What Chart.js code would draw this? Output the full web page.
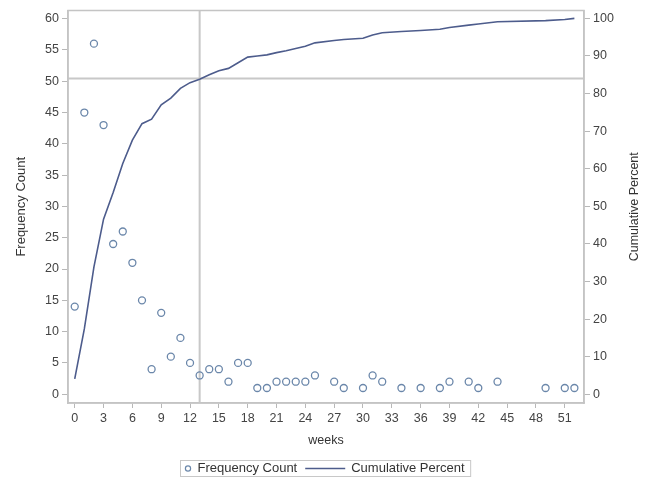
<!DOCTYPE html>
<html>
<head>
<meta charset="utf-8">
<script src="https://cdn.jsdelivr.net/npm/chart.js@4.4.1/dist/chart.umd.min.js"></script>
<style>
  html, body { margin: 0; padding: 0; background: #fff; }
  #wrap { width: 651px; height: 477px; }
</style>
</head>
<body>
<div id="wrap"><canvas id="freqChart" width="651" height="477"></canvas></div>
<script>
// weeks that have observations
const weeks = [0, 1, 2, 3, 4, 5, 6, 7, 8, 9, 10, 11, 12, 13, 14, 15, 16, 17, 18, 19, 20,
  21, 22, 23, 24, 25, 27, 28, 30, 31, 32, 34, 36, 38, 39, 41, 42, 44, 49, 51, 52];
const freqCount = [14, 45, 56, 43, 24, 26, 21, 15, 4, 13, 6, 9, 5, 3, 4, 4, 2, 5, 5, 1, 1,
  2, 2, 2, 2, 3, 2, 1, 1, 3, 2, 1, 1, 1, 2, 2, 1, 2, 1, 1, 1];
const cumPercent = [4.1, 17.4, 33.9, 46.6, 53.7, 61.4, 67.6, 72.0, 73.2, 77.0, 78.8, 81.4, 82.9, 83.8,
  85.0, 86.1, 86.7, 88.2, 89.7, 90.0, 90.3, 90.9, 91.4, 92.0, 92.6, 93.5, 94.1, 94.4, 94.7,
  95.6, 96.2, 96.5, 96.8, 97.1, 97.6, 98.2, 98.5, 99.1, 99.4, 99.7, 100];

const weekTicks = [0, 3, 6, 9, 12, 15, 18, 21, 24, 27, 30, 33, 36, 39, 42, 45, 48, 51];
const countTicks = [0, 5, 10, 15, 20, 25, 30, 35, 40, 45, 50, 55, 60];
const percentTicks = [0, 10, 20, 30, 40, 50, 60, 70, 80, 90, 100];

const refWeek = 13;
const refPercent = 84;

const FONT = "'Liberation Sans', Arial, sans-serif";
const MARKER_COLOR = "#6b87aa";
const LINE_COLOR = "#4d5c8c";
const FRAME_COLOR = "#c4c4c4";

Chart.defaults.font.family = FONT;

// reference lines, top frame, right axis title and boxed legend
const sasExtras = {
  id: "sasExtras",
  beforeDatasetsDraw(chart) {
    const { ctx, chartArea: a, scales } = chart;
    const rx = scales.x.getPixelForValue(refWeek);
    const ry = scales.y1.getPixelForValue(refPercent);
    ctx.save();
    ctx.strokeStyle = "#c8c8c8";
    ctx.lineWidth = 2;
    ctx.beginPath();
    ctx.moveTo(rx, a.top);
    ctx.lineTo(rx, a.bottom);
    ctx.moveTo(a.left, ry);
    ctx.lineTo(a.right, ry);
    ctx.stroke();
    ctx.restore();
  },
  afterDraw(chart) {
    const { ctx, chartArea: a } = chart;
    ctx.save();
    ctx.strokeStyle = FRAME_COLOR;
    ctx.lineWidth = 1.5;
    ctx.strokeRect(a.left, a.top, a.right - a.left, a.bottom - a.top);

    // right axis title, reading bottom to top
    ctx.fillStyle = "#333";
    ctx.font = "12.5px " + FONT;
    ctx.textAlign = "center";
    ctx.textBaseline = "middle";
    ctx.translate(635, (a.top + a.bottom) / 2);
    ctx.rotate(-Math.PI / 2);
    ctx.fillText(chart.data.datasets[1].label, 0, 0);
    ctx.restore();

    // legend
    const lab1 = chart.data.datasets[0].label;
    const lab2 = chart.data.datasets[1].label;
    ctx.save();
    ctx.font = "13px " + FONT;
    const w1 = ctx.measureText(lab1).width;
    const w2 = ctx.measureText(lab2).width;
    const total = 4 + 7 + 6 + w1 + 8 + 40 + 6 + w2 + 6;
    const x0 = Math.round(chart.width / 2 - total / 2) + 0.5;
    const top = 460.5, h = 16, cy = top + h / 2;
    ctx.strokeStyle = "#c8c8c8";
    ctx.lineWidth = 1;
    ctx.strokeRect(x0, top, total, h);
    let x = x0 + 4;
    ctx.strokeStyle = MARKER_COLOR;
    ctx.lineWidth = 1.2;
    ctx.beginPath();
    ctx.arc(x + 3.5, cy, 2.6, 0, Math.PI * 2);
    ctx.stroke();
    x += 7 + 6;
    ctx.fillStyle = "#333";
    ctx.textBaseline = "middle";
    ctx.textAlign = "left";
    ctx.fillText(lab1, x, cy);
    x += w1 + 8;
    ctx.strokeStyle = LINE_COLOR;
    ctx.lineWidth = 1.6;
    ctx.beginPath();
    ctx.moveTo(x, cy);
    ctx.lineTo(x + 40, cy);
    ctx.stroke();
    x += 40 + 6;
    ctx.fillText(lab2, x, cy);
    ctx.restore();
  }
};

const ctx = document.getElementById("freqChart").getContext("2d");

new Chart(ctx, {
  type: "line",
  data: {
    datasets: [
      {
        type: "scatter",
        label: "Frequency Count",
        data: weeks.map((w, i) => ({ x: w, y: freqCount[i] })),
        yAxisID: "y",
        showLine: false,
        pointStyle: "circle",
        pointRadius: 3.5,
        pointBorderWidth: 1.3,
        pointBorderColor: MARKER_COLOR,
        pointBackgroundColor: "rgba(255,255,255,0)"
      },
      {
        type: "line",
        label: "Cumulative Percent",
        data: weeks.map((w, i) => ({ x: w, y: cumPercent[i] })),
        yAxisID: "y1",
        borderColor: LINE_COLOR,
        borderWidth: 1.6,
        pointRadius: 0,
        tension: 0,
        fill: false
      }
    ]
  },
  options: {
    responsive: false,
    animation: false,
    events: [],
    layout: { padding: { top: 10, left: 10, right: 5, bottom: 25 } },
    plugins: {
      legend: { display: false },
      tooltip: { enabled: false }
    },
    scales: {
      x: {
        type: "linear",
        min: -0.7,
        max: 53,
        afterBuildTicks: (s) => { s.ticks = weekTicks.map(v => ({ value: v })); },
        afterFit: (s) => { s.height = 49; },
        ticks: { font: { size: 12.5 }, color: "#444", padding: 3, maxRotation: 0, autoSkip: false },
        grid: { drawOnChartArea: false, tickLength: 5, color: "#b8b8b8" },
        border: { color: FRAME_COLOR, width: 1.5 },
        title: { display: true, text: "weeks", font: { size: 12.5 }, color: "#333", padding: { top: 4, bottom: 4 } }
      },
      y: {
        position: "left",
        min: -1.4,
        max: 61.3,
        afterBuildTicks: (s) => { s.ticks = countTicks.map(v => ({ value: v })); },
        afterFit: (s) => { s.width = 58; },
        ticks: { font: { size: 12.5 }, color: "#444", padding: 3 },
        grid: { drawOnChartArea: false, tickLength: 6, color: "#b8b8b8" },
        border: { color: FRAME_COLOR, width: 1.5 },
        title: { display: true, text: "Frequency Count", font: { size: 13 }, color: "#333", padding: { top: 4, bottom: 4 } }
      },
      y1: {
        position: "right",
        min: -2.3,
        max: 102.1,
        afterBuildTicks: (s) => { s.ticks = percentTicks.map(v => ({ value: v })); },
        afterFit: (s) => { s.width = 62; },
        ticks: { font: { size: 12.5 }, color: "#444", padding: 3 },
        grid: { drawOnChartArea: false, tickLength: 6, color: "#b8b8b8" },
        border: { color: FRAME_COLOR, width: 1.5 }
      }
    }
  },
  plugins: [sasExtras]
});
</script>
</body>
</html>
